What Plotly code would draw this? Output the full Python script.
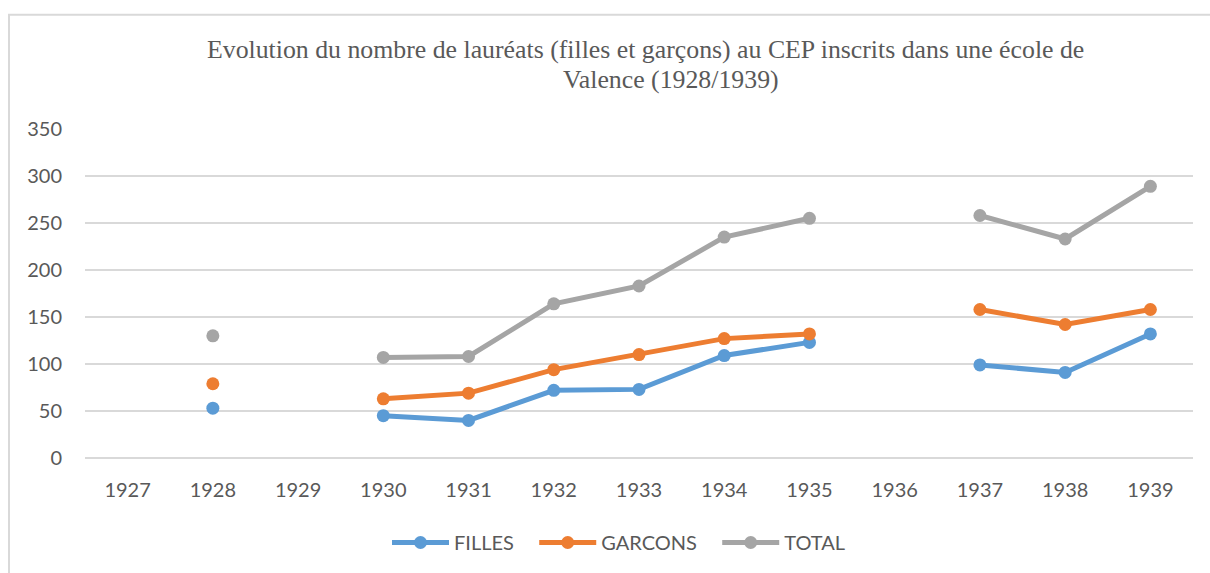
import plotly.graph_objects as go

years = ["1927", "1928", "1929", "1930", "1931", "1932", "1933",
         "1934", "1935", "1936", "1937", "1938", "1939"]
filles = [None, 53, None, 45, 40, 72, 73, 109, 123, None, 99, 91, 132]
garcons = [None, 79, None, 63, 69, 94, 110, 127, 132, None, 158, 142, 158]
total = [None, 130, None, 107, 108, 164, 183, 235, 255, None, 258, 233, 289]

y_ticks = [0, 50, 100, 150, 200, 250, 300, 350]

# legend labels carry a little trailing padding so the entries spread out
series = [
    ("FILLES\u00a0\u00a0\u00a0", filles, "#5B9BD5"),
    ("GARCONS\u00a0\u00a0\u00a0", garcons, "#ED7D31"),
    ("TOTAL", total, "#A5A5A5"),
]

fig = go.Figure()
for name, vals, color in series:
    fig.add_trace(go.Scatter(
        x=years, y=vals, name=name, mode="lines+markers",
        connectgaps=False,
        line=dict(color=color, width=5),
        marker=dict(color=color, size=13),
    ))

tick_font = dict(family="Lato, sans-serif", size=20, color="#595959")
title_font = dict(family="Liberation Serif, Times New Roman, serif", size=25.8, color="#595959")

fig.update_layout(
    width=1210, height=573,
    margin=dict(l=85, r=17, t=129, b=114),
    paper_bgcolor="white", plot_bgcolor="white",
    showlegend=True,
    legend=dict(
        orientation="h", x=0.4815, xanchor="center", y=-0.253, yanchor="middle",
        font=dict(family="Lato, sans-serif", size=20, color="#595959"),
        itemwidth=57, tracegroupgap=0,
    ),
    xaxis=dict(
        type="category", categoryorder="array", categoryarray=years,
        range=[-0.5, 12.5],
        tickfont=tick_font, showgrid=False, zeroline=False,
        showline=False, ticks="", ticklabelstandoff=18,
    ),
    yaxis=dict(
        range=[0, 350], tickvals=y_ticks, tickfont=tick_font,
        showgrid=True, gridcolor="#D9D9D9", gridwidth=2,
        zeroline=True, zerolinecolor="#D9D9D9", zerolinewidth=2,
        showline=False, ticks="", ticklabelstandoff=22,
    ),
    annotations=[
        dict(text="Evolution du nombre de lauréats (filles et garçons) au CEP inscrits dans une école de",
             xref="paper", yref="paper", x=0.5063, y=1.241, xanchor="center", yanchor="middle",
             showarrow=False, font=title_font),
        dict(text="Valence (1928/1939)",
             xref="paper", yref="paper", x=0.529, y=1.150, xanchor="center", yanchor="middle",
             showarrow=False, font=title_font),
    ],
    shapes=[
        dict(type="rect", xref="paper", yref="paper",
             x0=-0.0686, x1=1.2, y0=-0.6, y1=1.347,
             line=dict(color="#D9D9D9", width=2), layer="below"),
    ],
)

fig.write_html("out.html")
